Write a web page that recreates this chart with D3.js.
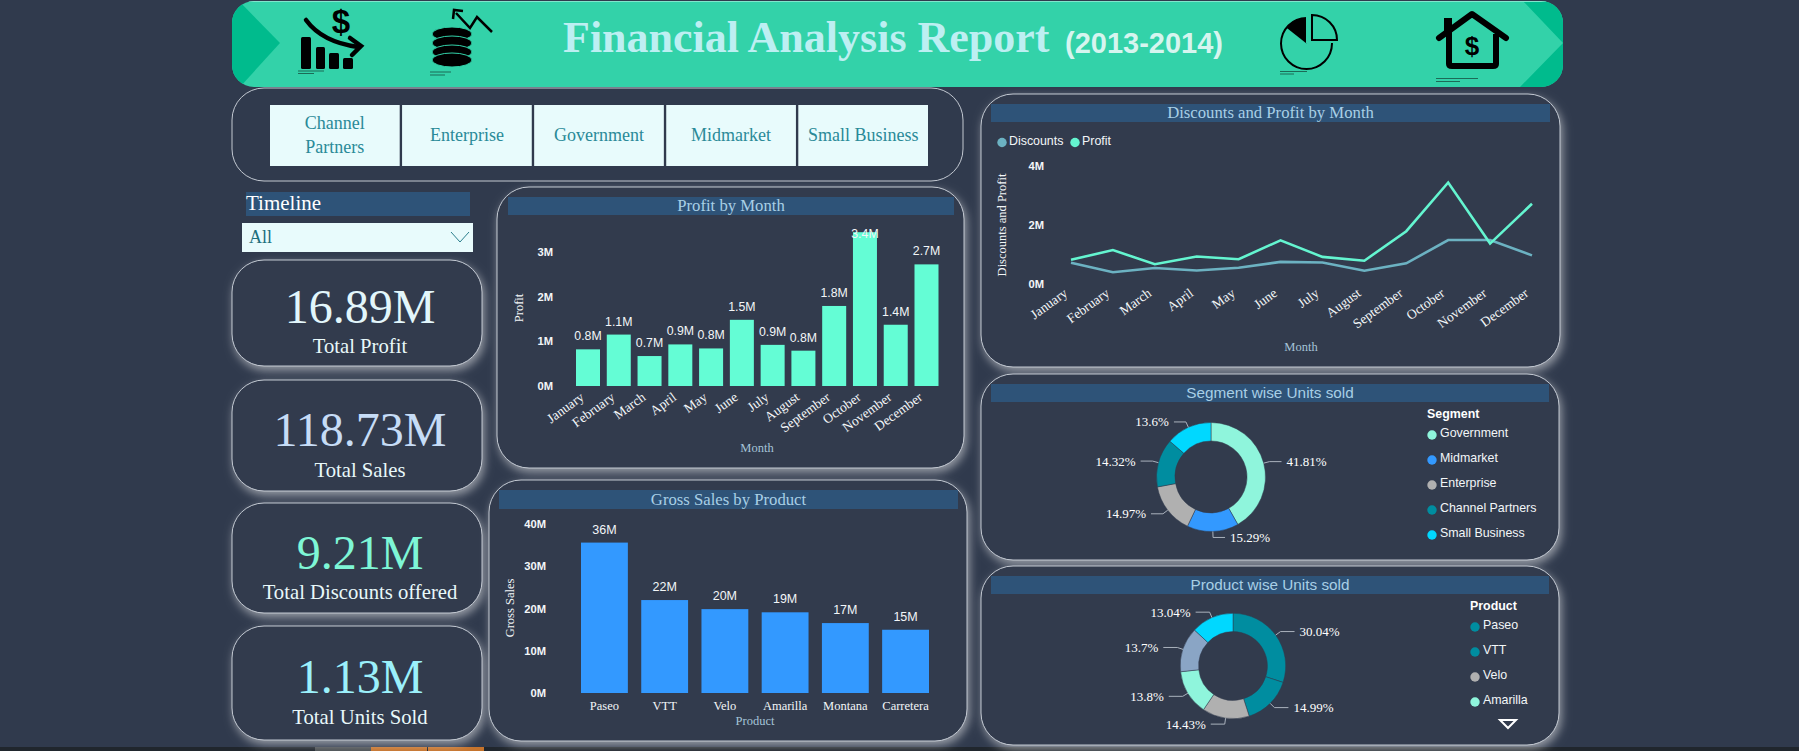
<!DOCTYPE html>
<html>
<head>
<meta charset="utf-8">
<title>Financial Analysis Report</title>
<script src="https://cdn.jsdelivr.net/npm/d3@7/dist/d3.min.js"></script>
<style>
html, body { margin: 0; padding: 0; background: #303a4d; overflow: hidden; }
svg { display: block; }
</style>
</head>
<body>
<svg width="1799" height="751"></svg>
<script>
// data
var months = ["January", "February", "March", "April", "May", "June", "July", "August", "September", "October", "November", "December"];
var profit = [0.82, 1.15, 0.67, 0.93, 0.84, 1.48, 0.92, 0.79, 1.79, 3.44, 1.37, 2.72];
var profitLabels = ["0.8M", "1.1M", "0.7M", "0.9M", "0.8M", "1.5M", "0.9M", "0.8M", "1.8M", "3.4M", "1.4M", "2.7M"];
var discounts = [0.72, 0.40, 0.54, 0.46, 0.55, 0.75, 0.73, 0.45, 0.70, 1.49, 1.49, 0.97];

var products = ["Paseo", "VTT", "Velo", "Amarilla", "Montana", "Carretera"];
var grossSales = [35.6, 22.0, 19.85, 19.1, 16.55, 14.97];
var grossLabels = ["36M", "22M", "20M", "19M", "17M", "15M"];

var segments = ["Government", "Midmarket", "Enterprise", "Channel Partners", "Small Business"];
var segmentShare = [41.81, 15.29, 14.97, 14.32, 13.6];
var productShare = [30.04, 14.99, 14.43, 13.8, 13.7, 13.04];

var slicerItems = [["Channel", "Partners"], ["Enterprise"], ["Government"], ["Midmarket"], ["Small Business"]];
var kpiValues = ["16.89M", "118.73M", "9.21M", "1.13M"];
var kpiNames = ["Total Profit", "Total Sales", "Total Discounts offered", "Total Units Sold"];

var SERIF = "Liberation Serif";
var SANS = "Liberation Sans";
var BG = "#303a4d";
var BAND = "#2e5378";

var svg = d3.select("svg");

// soft light halo, falls mostly to the lower right of each card
var defs = svg.append("defs");
var glow = defs.append("filter").attr("id", "glow")
    .attr("x", "-15%").attr("y", "-15%").attr("width", "130%").attr("height", "130%");
glow.append("feDropShadow").attr("dx", 2).attr("dy", 4).attr("stdDeviation", 5)
    .attr("flood-color", "#ffffff").attr("flood-opacity", 0.5);

defs.append("clipPath").attr("id", "headerClip").append("rect")
    .attr("x", 232).attr("y", 1).attr("width", 1331).attr("height", 86).attr("rx", 22);

svg.append("rect").attr("width", 1799).attr("height", 751).attr("fill", BG);

// taskbar remains at the bottom edge of the screenshot
var strip = svg.append("g");
strip.append("rect").attr("x", 0).attr("y", 747).attr("width", 1799).attr("height", 4).attr("fill", "#20262d");
strip.append("rect").attr("x", 315).attr("y", 747).attr("width", 56).attr("height", 4).attr("fill", "#4c5154");
strip.append("rect").attr("x", 371).attr("y", 747).attr("width", 56).attr("height", 4).attr("fill", "#c5732c");
strip.append("rect").attr("x", 428).attr("y", 747).attr("width", 56).attr("height", 4).attr("fill", "#c5732c");

function addText(parent, x, y, str, font, size, color, anchor, weight) {
    return parent.append("text")
        .attr("x", x).attr("y", y)
        .attr("font-family", font)
        .attr("font-size", size)
        .attr("fill", color)
        .attr("text-anchor", anchor || "middle")
        .attr("font-weight", weight || "normal")
        .text(str);
}

function card(x, y, w, h, r, halo) {
    var c = svg.append("rect")
        .attr("x", x).attr("y", y).attr("width", w).attr("height", h).attr("rx", r)
        .attr("fill", BG).attr("stroke", "#c3c9d2").attr("stroke-width", 1);
    if (halo) c.attr("filter", "url(#glow)");
    return c;
}

function titleBand(x, y, w, h, title, font, size) {
    svg.append("rect").attr("x", x).attr("y", y).attr("width", w).attr("height", h).attr("fill", BAND);
    addText(svg, x + w / 2, y + h - 4.5, title, font, size, "#a8cfe6");
}

// ---- header ----
var header = svg.append("g").attr("clip-path", "url(#headerClip)");
header.append("rect").attr("x", 232).attr("y", 1).attr("width", 1331).attr("height", 86).attr("fill", "#33d2a9");
var dark = "#00bb8d";
header.append("path").attr("fill", dark).attr("d", "M232,0L238,0L280,43L240,87L232,87Z");
header.append("path").attr("fill", dark).attr("d", "M1522,0L1563,43L1520,87L1563,87L1563,0Z");
header.append("rect").attr("x", 232).attr("y", 1).attr("width", 1331).attr("height", 1).attr("fill", "#7fe6cc");

addText(svg, 563, 52, "Financial Analysis Report", SERIF, 44, "#bdeff2", "start", "bold");
addText(svg, 1065, 53, "(2013-2014)", SANS, 29, "#d6f5ef", "start", "bold");

// icon 1: falling bars
var ic1 = svg.append("g");
ic1.selectAll("rect").data([[301, 37, 10, 32], [316, 47, 9, 22], [329, 53, 10, 16], [343, 58, 10, 11]]).enter()
    .append("rect").attr("x", function(d) { return d[0]; }).attr("y", function(d) { return d[1]; })
    .attr("width", function(d) { return d[2]; }).attr("height", function(d) { return d[3]; })
    .attr("rx", 1.5).attr("fill", "#000");
ic1.append("path").attr("d", "M306,20Q322,42 358,47").attr("fill", "none").attr("stroke", "#000").attr("stroke-width", 4.5).attr("stroke-linecap", "round");
ic1.append("path").attr("d", "M350,38L361,46L352,55").attr("fill", "none").attr("stroke", "#000").attr("stroke-width", 4.5).attr("stroke-linecap", "round");
addText(ic1, 341, 33, "$", SANS, 33, "#000", "middle", "bold");

// icon 2: coin stack
var ic2 = svg.append("g");
ic2.selectAll("ellipse").data([34, 43, 52, 60]).enter().append("ellipse")
    .attr("cx", 452).attr("cy", function(d) { return d; }).attr("rx", 20).attr("ry", 7)
    .attr("fill", "#000").attr("stroke", "#33d2a9").attr("stroke-width", 1);
ic2.append("path").attr("d", "M492,32L477,17L470,28L456,13").attr("fill", "none").attr("stroke", "#000").attr("stroke-width", 2.5);
ic2.append("path").attr("d", "M453,19L454,10L463,11").attr("fill", "none").attr("stroke", "#000").attr("stroke-width", 2.5);

// icon 3: pie with lifted quarter
var ic3 = svg.append("g");
var pieArc = d3.arc();
ic3.append("path").attr("transform", "translate(1306.5,43.5)")
    .attr("d", pieArc({innerRadius: 0, outerRadius: 25.5, startAngle: -0.9, endAngle: 0})).attr("fill", "#000");
ic3.append("path").attr("transform", "translate(1306.5,43.5)")
    .attr("d", pieArc({innerRadius: 24.5, outerRadius: 26.5, startAngle: 0, endAngle: Math.PI * 2})).attr("fill", "#000");
ic3.append("rect").attr("x", 1306).attr("y", 14).attr("width", 33).attr("height", 29).attr("fill", "#33d2a9");
ic3.append("path").attr("d", "M1312,15A25,25 0 0 1 1337,40L1312,40Z").attr("fill", "#33d2a9").attr("stroke", "#000").attr("stroke-width", 2);

// icon 4: house
var ic4 = svg.append("g");
ic4.append("path").attr("d", "M1449,34V64Q1449,66 1452,66H1493Q1496,66 1496,64V34").attr("fill", "none").attr("stroke", "#000").attr("stroke-width", 6);
ic4.append("path").attr("d", "M1439,38L1472,14L1506,38").attr("fill", "none").attr("stroke", "#000").attr("stroke-width", 6).attr("stroke-linecap", "round").attr("stroke-linejoin", "round");
ic4.append("rect").attr("x", 1444).attr("y", 18).attr("width", 8).attr("height", 16).attr("fill", "#000");
addText(ic4, 1472, 55, "$", SANS, 26, "#000", "middle", "bold");

// tiny attribution scribbles under the icons
var scribbles = [[298, 71, 26], [298, 73.5, 16], [430, 72, 21], [430, 75, 15], [1280, 71.5, 27], [1280, 74, 14], [1436, 78.5, 42], [1436, 81.5, 24]];
svg.append("g").selectAll("line").data(scribbles).enter().append("line")
    .attr("x1", function(d) { return d[0]; }).attr("x2", function(d) { return d[0] + d[2]; })
    .attr("y1", function(d) { return d[1]; }).attr("y2", function(d) { return d[1]; })
    .attr("stroke", "#1c6b57").attr("stroke-width", 1);

// ---- slicer ----
card(232, 88, 731, 93, 32, false);
var slicerX = d3.scaleBand().domain(d3.range(slicerItems.length)).range([270, 928]).paddingInner(0.018);
var slicer = svg.append("g").selectAll("g").data(slicerItems).enter().append("g");
slicer.append("rect")
    .attr("x", function(d, i) { return slicerX(i); }).attr("y", 105)
    .attr("width", slicerX.bandwidth()).attr("height", 61)
    .attr("fill", "#e8fbfc");
slicer.each(function(d, i) {
    var g = d3.select(this);
    var cx = slicerX(i) + slicerX.bandwidth() / 2;
    d.forEach(function(line, k) {
        addText(g, cx, 141 - (d.length - 1) * 12 + k * 24, line, SERIF, 18, "#2a8a98");
    });
});

// ---- timeline ----
svg.append("rect").attr("x", 246).attr("y", 192).attr("width", 224).attr("height", 24).attr("fill", BAND);
addText(svg, 246, 210, "Timeline", SERIF, 21, "#ffffff", "start");
svg.append("rect").attr("x", 242).attr("y", 223).attr("width", 231).attr("height", 29).attr("fill", "#e8fbfc");
addText(svg, 249, 243, "All", SERIF, 18, "#1d6f7c", "start");
svg.append("path").attr("d", "M451,232L460,242L469,232").attr("fill", "none").attr("stroke", "#2a7f8d").attr("stroke-width", 1);

// ---- kpi cards ----
var kpiTop = [260, 380, 503, 626];
var kpiHeight = [106, 111, 110, 114];
var kpiValueY = [323, 446, 569, 693];
var kpiNameY = [353, 477, 599, 724];
var kpiColor = ["#e2f6fb", "#c6dcf6", "#7ef6d6", "#9bf0fb"];
kpiValues.forEach(function(v, i) {
    card(232, kpiTop[i], 250, kpiHeight[i], 32, true);
    addText(svg, 360, kpiValueY[i], v, SERIF, 48, kpiColor[i]);
    addText(svg, 360, kpiNameY[i], kpiNames[i], SERIF, 20.7, "#e8f8fa");
});

function styleAxis(g, font, size, weight) {
    g.select(".domain").remove();
    g.selectAll("line").remove();
    g.selectAll("text").attr("font-family", font).attr("font-size", size)
        .attr("font-weight", weight || "normal").attr("fill", "#f2f6f8");
}

// ---- profit by month ----
card(497, 187, 467, 281, 32, true);
titleBand(508, 197, 446, 18, "Profit by Month", SERIF, 16.7);

var profitX = d3.scaleBand().domain(months).range([576, 938.5]).paddingInner(0.22).paddingOuter(0);
var profitY = d3.scaleLinear().domain([0, 3.5]).range([386, 229.5]);

svg.append("g").selectAll("rect").data(months).enter().append("rect")
    .attr("x", function(d) { return profitX(d); })
    .attr("y", function(d, i) { return profitY(profit[i]); })
    .attr("width", profitX.bandwidth())
    .attr("height", function(d, i) { return 386 - profitY(profit[i]); })
    .attr("fill", "#64fdd5");

svg.append("g").selectAll("text").data(months).enter().append("text")
    .attr("x", function(d) { return profitX(d) + profitX.bandwidth() / 2; })
    .attr("y", function(d, i) { return Math.max(profitY(profit[i]) - 9, 238); })
    .attr("text-anchor", "middle").attr("font-family", SANS).attr("font-size", 12.3)
    .attr("fill", "#f2f6f8")
    .text(function(d, i) { return profitLabels[i]; });

var profitYAxis = svg.append("g").attr("transform", "translate(553,0)")
    .call(d3.axisLeft(profitY).tickValues([0, 1, 2, 3]).tickSize(0).tickPadding(0).tickFormat(function(d) { return d + "M"; }));
styleAxis(profitYAxis, SANS, 11.2, "bold");

var profitXAxis = svg.append("g").attr("transform", "translate(0,386)")
    .call(d3.axisBottom(profitX).tickSize(0).tickPadding(0));
styleAxis(profitXAxis, SERIF, 13.5);
profitXAxis.selectAll("text")
    .attr("text-anchor", "end").attr("dy", 0)
    .attr("transform", "translate(-3,13) rotate(-36)");

addText(svg, 757, 452, "Month", SERIF, 12.5, "#a5c4d8");
addText(svg, 0, 0, "Profit", SERIF, 12.5, "#f2f6f8").attr("transform", "translate(523,308) rotate(-90)");

// ---- gross sales by product ----
card(489, 480, 478, 261, 32, true);
titleBand(499, 490, 459, 19, "Gross Sales by Product", SERIF, 16.7);

var salesX = d3.scaleBand().domain(products).range([581, 929]).paddingInner(0.222).paddingOuter(0);
var salesY = d3.scaleLinear().domain([0, 40]).range([693, 524]);

svg.append("g").selectAll("rect").data(products).enter().append("rect")
    .attr("x", function(d) { return salesX(d); })
    .attr("y", function(d, i) { return salesY(grossSales[i]); })
    .attr("width", salesX.bandwidth())
    .attr("height", function(d, i) { return 693 - salesY(grossSales[i]); })
    .attr("fill", "#3399ff");

svg.append("g").selectAll("text").data(products).enter().append("text")
    .attr("x", function(d) { return salesX(d) + salesX.bandwidth() / 2; })
    .attr("y", function(d, i) { return salesY(grossSales[i]) - 9; })
    .attr("text-anchor", "middle").attr("font-family", SANS).attr("font-size", 12.5)
    .attr("fill", "#f2f6f8")
    .text(function(d, i) { return grossLabels[i]; });

var salesYAxis = svg.append("g").attr("transform", "translate(546,0)")
    .call(d3.axisLeft(salesY).tickValues([0, 10, 20, 30, 40]).tickSize(0).tickPadding(0).tickFormat(function(d) { return d + "M"; }));
styleAxis(salesYAxis, SANS, 11.2, "bold");

var salesXAxis = svg.append("g").attr("transform", "translate(0,693)")
    .call(d3.axisBottom(salesX).tickSize(0).tickPadding(0));
styleAxis(salesXAxis, SERIF, 12.5);
salesXAxis.selectAll("text").attr("dy", 0).attr("y", 17);

addText(svg, 755, 725, "Product", SERIF, 12.5, "#a5c4d8");
addText(svg, 0, 0, "Gross Sales", SERIF, 12.5, "#f2f6f8").attr("transform", "translate(514,608) rotate(-90)");

// ---- discounts and profit ----
card(981, 94, 579, 273, 32, true);
titleBand(991, 104, 559, 18, "Discounts and Profit by Month", SERIF, 16.7);

var lineX = d3.scalePoint().domain(months).range([1071, 1532]);
var lineY = d3.scaleLinear().domain([0, 4]).range([284, 166]);
var line = d3.line()
    .x(function(d, i) { return lineX(months[i]); })
    .y(function(d) { return lineY(d); });

svg.append("path").datum(discounts).attr("d", line).attr("fill", "none").attr("stroke", "#6cb2c2").attr("stroke-width", 2.6);
svg.append("path").datum(profit).attr("d", line).attr("fill", "none").attr("stroke", "#64f5d0").attr("stroke-width", 2.6);

var lineLegend = [["Discounts", "#6cb2c2", 1002, 1009], ["Profit", "#64f5d0", 1075, 1082]];
lineLegend.forEach(function(d) {
    svg.append("circle").attr("cx", d[2]).attr("cy", 142.5).attr("r", 4.7).attr("fill", d[1]);
    addText(svg, d[3], 145, d[0], SANS, 12.4, "#f2f6f8", "start");
});

var lineYAxis = svg.append("g").attr("transform", "translate(1044,0)")
    .call(d3.axisLeft(lineY).tickValues([0, 2, 4]).tickSize(0).tickPadding(0).tickFormat(function(d) { return d + "M"; }));
styleAxis(lineYAxis, SANS, 11.2, "bold");

var lineXAxis = svg.append("g").attr("transform", "translate(0,284)")
    .call(d3.axisBottom(lineX).tickSize(0).tickPadding(0));
styleAxis(lineXAxis, SERIF, 13.5);
lineXAxis.selectAll("text")
    .attr("text-anchor", "end").attr("dy", 0)
    .attr("transform", "translate(-3,11) rotate(-36)");

addText(svg, 1301, 351, "Month", SERIF, 12.5, "#a5c4d8");
addText(svg, 0, 0, "Discounts and Profit", SERIF, 12.5, "#f2f6f8").attr("transform", "translate(1006,225) rotate(-90)");

// ---- donuts ----
function donut(cx, cy, outer, inner, names, values, colors, run) {
    var pie = d3.pie().sort(null);
    var arcs = pie(values);
    var arc = d3.arc().innerRadius(inner).outerRadius(outer);
    var g = svg.append("g").attr("transform", "translate(" + cx + "," + cy + ")");
    g.selectAll("path.slice").data(arcs).enter().append("path")
        .attr("class", "slice")
        .attr("d", arc)
        .attr("fill", function(d, i) { return colors[i]; })
        .attr("stroke", BG).attr("stroke-width", 0.5);

    arcs.forEach(function(d, i) {
        var mid = (d.startAngle + d.endAngle) / 2;
        var sx = Math.sin(mid), sy = -Math.cos(mid);
        var side = sx >= 0 ? 1 : -1;
        var ex = sx * (outer + 6), ey = sy * (outer + 6);
        g.append("path")
            .attr("d", "M" + (sx * outer) + "," + (sy * outer) + "L" + ex + "," + ey + "L" + (ex + side * run) + "," + ey)
            .attr("fill", "none").attr("stroke", "#aab2bd").attr("stroke-width", 1);
        addText(g, ex + side * (run + 5), ey + 4.5, d.data + "%", SERIF, 13, "#ffffff", side > 0 ? "start" : "end");
    });
}

function legend(x, y, title, names, colors, step) {
    addText(svg, x, y, title, SANS, 12.4, "#ffffff", "start", "bold");
    names.forEach(function(n, i) {
        svg.append("circle").attr("cx", x + 5).attr("cy", y + 17 + i * step).attr("r", 4.7).attr("fill", colors[i]);
        addText(svg, x + 13, y + 19 + i * step, n, SANS, 12.4, "#f2f6f8", "start");
    });
}

var segmentColors = ["#8ff5dc", "#3399ff", "#b0b0b0", "#008da0", "#00d8ff"];
card(981, 374, 578, 186, 32, true);
titleBand(991, 384, 558, 18, "Segment wise Units sold", SANS, 15.3);
donut(1211, 477, 54.5, 36, segments, segmentShare, segmentColors, 12);
legend(1427, 418, "Segment", segments, segmentColors, 25);

var productColors = ["#008da0", "#008da0", "#b0b0b0", "#8ff5dc", "#8aa5c5", "#00d8ff"];
card(981, 566, 578, 179, 32, true);
titleBand(991, 576, 558, 18, "Product wise Units sold", SANS, 15.3);
donut(1233, 666, 52.7, 34.4, products, productShare, productColors, 14);
legend(1470, 610, "Product", products.slice(0, 4), productColors, 25);
svg.append("path").attr("d", "M1500,720L1516,720L1508,728Z").attr("fill", "none").attr("stroke", "#ffffff").attr("stroke-width", 2);
</script>
</body>
</html>
